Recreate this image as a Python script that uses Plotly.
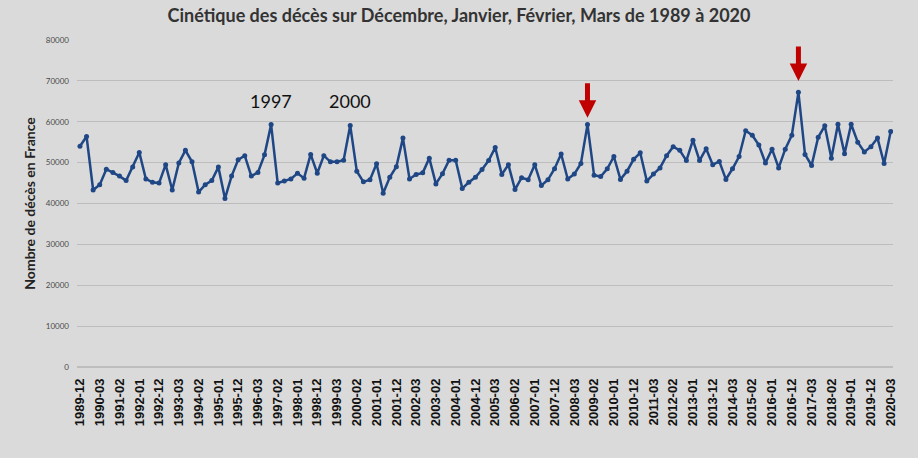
import plotly.graph_objects as go

years = list(range(1989, 2020))
categories = []
for y in years:
    categories.append(f"{y}-12")
    for m in ["01", "02", "03"]:
        categories.append(f"{y+1}-{m}")

deces = [
    54000, 56400, 43300, 44600, 48400, 47600, 46700, 45600, 48900, 52500,
    46000, 45200, 45000, 49500, 43300, 49900, 53000, 50200, 42800, 44600,
    45600, 48900, 41200, 46700, 50700, 51700, 46700, 47600, 51900, 59300,
    45000, 45500, 46000, 47400, 46200, 52000, 47400, 51700, 50200, 50200,
    50600, 59100, 47900, 45300, 45800, 49700, 42500, 46400, 49000, 56000,
    46000, 47100, 47500, 51100, 44800, 47300, 50600, 50600, 43700, 45200,
    46400, 48300, 50500, 53700, 47100, 49500, 43400, 46300, 45800, 49500,
    44400, 45800, 48500, 52100, 46000, 47200, 49800, 59300, 46900, 46600,
    48500, 51500, 45900, 47900, 50800, 52400, 45500, 47200, 48700, 51700,
    53900, 53000, 50500, 55500, 50500, 53400, 49500, 50300, 45900, 48500,
    51500, 57800, 56700, 54300, 49900, 53300, 48700, 53300, 56700, 67200,
    52000, 49300, 56200, 59000, 51100, 59400, 52200, 59400, 55000, 52600,
    53900, 56000, 49800, 57600,
]

tick_labels = categories[::3]
year_labels = [("1997-01", "1997"), ("2000-01", "2000")]
arrow_points = [("2009-01", 61000), ("2017-01", 70000)]

bg = "#dadada"
fig = go.Figure()
fig.add_trace(go.Scatter(
    x=list(range(len(categories))), y=deces, mode="lines+markers",
    line=dict(color="#1f4785", width=2.5),
    marker=dict(color="#1f4785", size=5),
    hoverinfo="skip",
))

annotations = []
for cat, txt in year_labels:
    annotations.append(dict(
        x=categories.index(cat), y=65000, text=txt, showarrow=False,
        xref="x", yref="y", font=dict(family="Lato", size=18, color="#111111"),
    ))
for cat, tip in arrow_points:
    i = categories.index(cat)
    annotations.append(dict(
        x=i, y=tip, xref="x", yref="y", text="",
        showarrow=True, arrowhead=2, arrowsize=0.7, arrowwidth=5,
        arrowcolor="#c00000", ax=0, ay=-36,
    ))

fig.update_layout(
    width=918, height=458,
    paper_bgcolor=bg, plot_bgcolor=bg,
    margin=dict(l=77, r=25, t=40, b=91),
    showlegend=False,
    title=dict(
        text="Cinétique des décès sur Décembre, Janvier, Février, Mars de 1989 à 2020",
        x=0.5, xanchor="center", y=0.965, yanchor="middle",
        font=dict(family="Lato", size=18, color="#333333", weight="bold"),
    ),
    xaxis=dict(
        range=[-0.45, 123.35],
        tickmode="array",
        tickvals=list(range(0, len(categories), 3)),
        ticktext=tick_labels,
        tickangle=-90,
        ticklabelstandoff=8,
        tickfont=dict(family="Liberation Sans", size=13, color="#111111", weight="bold"),
        showgrid=False, zeroline=False, showline=False, ticks="",
    ),
    yaxis=dict(
        range=[0, 80000], dtick=10000, tickformat="d",
        ticklabelstandoff=7,
        tickfont=dict(family="Lato", size=8, color="#4a4a4a"),
        gridcolor="#bdbdbd", gridwidth=1, zeroline=True, zerolinecolor="#bdbdbd",
        showline=False, ticks="",
        title=dict(text="Nombre de décès en France",
                   font=dict(family="Lato", size=14, color="#222222", weight="bold"),
                   standoff=6),
    ),
    annotations=annotations,
)

fig.write_html("out.html")
